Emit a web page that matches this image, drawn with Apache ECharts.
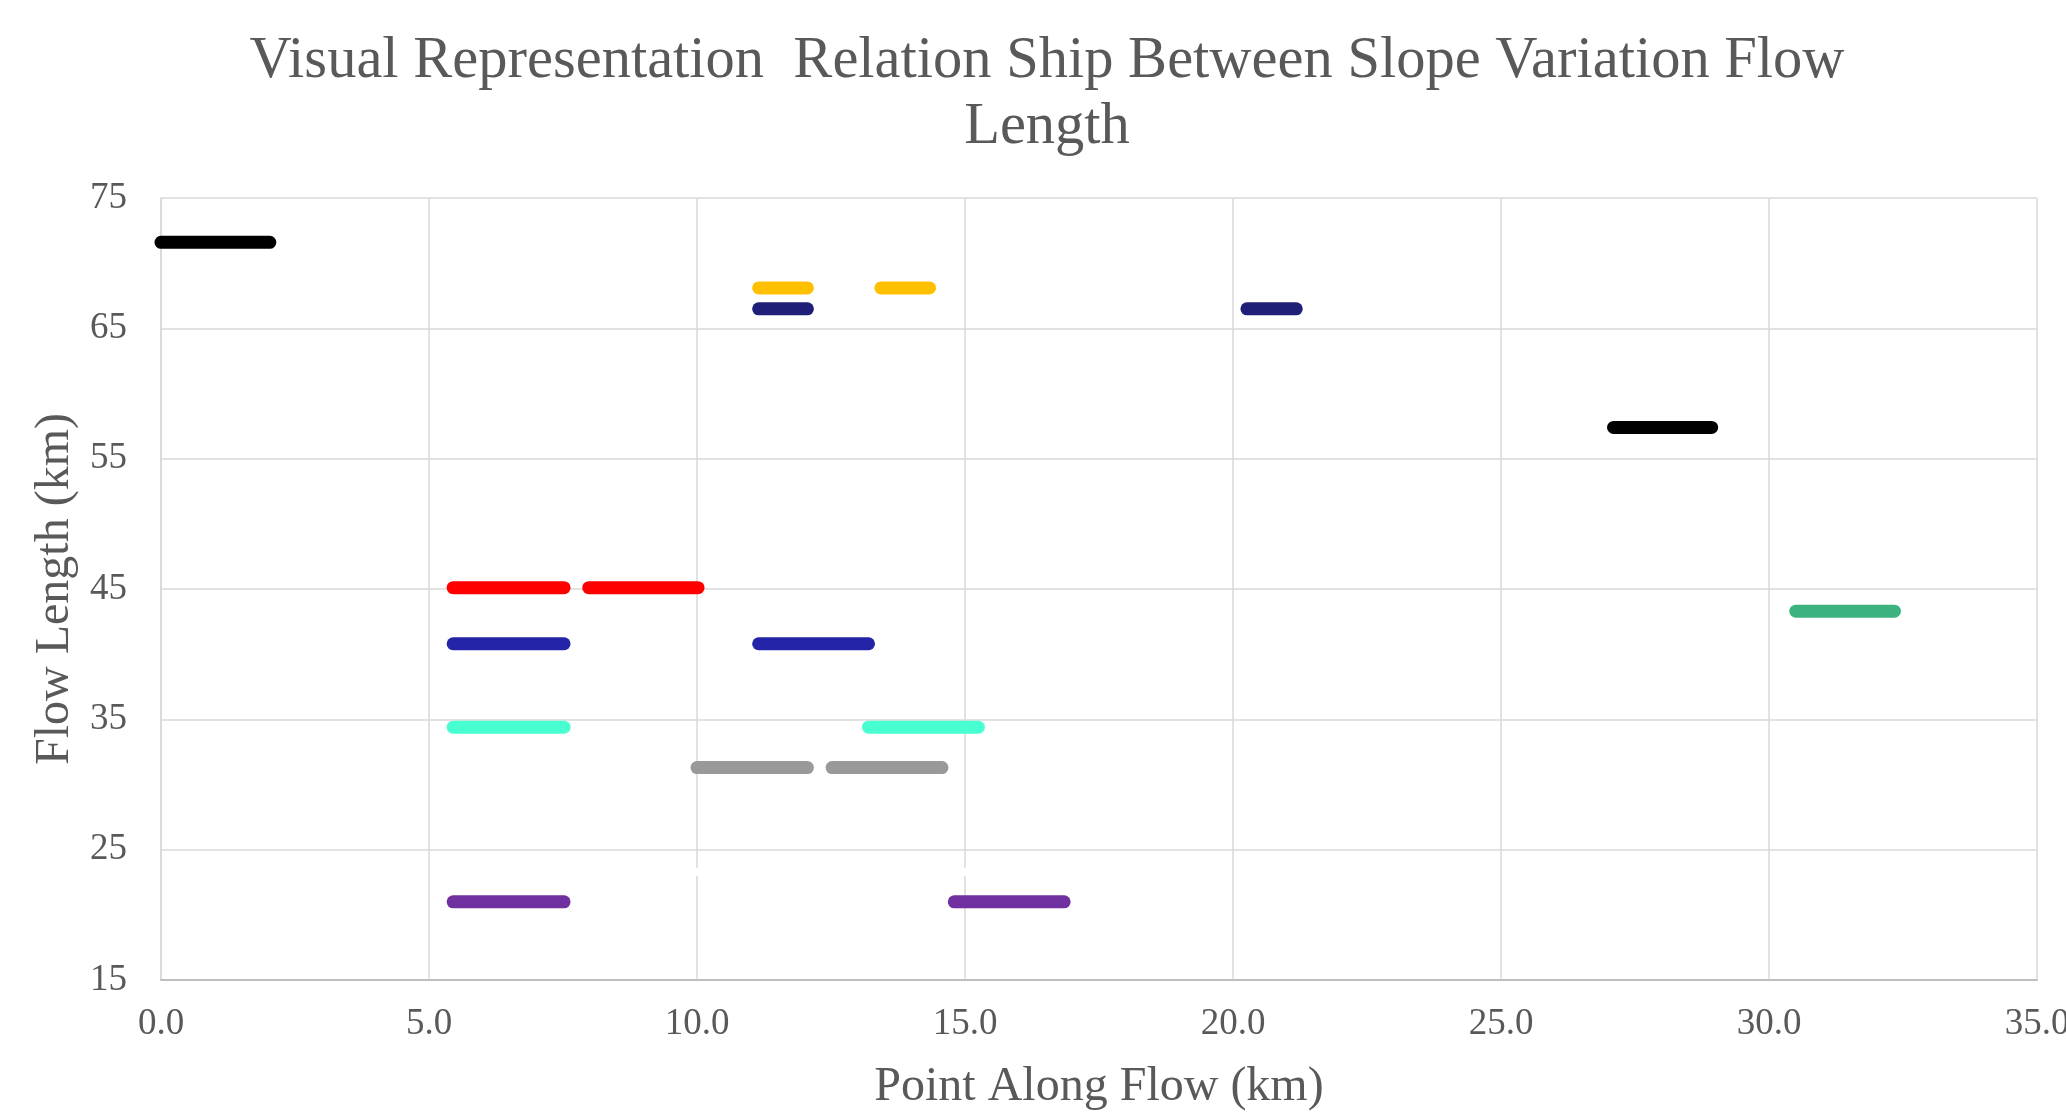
<!DOCTYPE html>
<html>
<head>
<meta charset="utf-8">
<title>Slope Variation vs Flow Length</title>
<script src="https://cdn.jsdelivr.net/npm/echarts@6/dist/echarts.min.js"></script>
<style>
  html, body { margin: 0; padding: 0; background: #ffffff; overflow: hidden; }
  #chart { width: 2066px; height: 1118px; }
</style>
</head>
<body>
<div id="chart"></div>
<script>
// Horizontal slope segments: start point, end point (km along flow) and flow length (km)
const segFrom  = [0.0,  11.15, 13.43, 11.15, 20.26, 27.10, 30.50, 5.45, 7.98, 5.45, 11.15, 5.45, 13.20, 10.00, 12.52, 5.45, 14.80, 9.80];
const segTo    = [2.03, 12.06, 14.34, 12.06, 21.18, 28.93, 32.34, 7.52, 10.02, 7.52, 13.20, 7.52, 15.25, 12.06, 14.57, 7.52, 16.85, 15.20];
const segLevel = [71.6, 68.1,  68.1,  66.5,  66.5,  57.4,  43.3,  45.1, 45.1, 40.8, 40.8,  34.4, 34.4,  31.3,  31.3,  21.0, 21.0,  23.3];
// Which colour group each segment belongs to
const segGroup = [0,    1,     1,     2,     2,     0,     3,     4,    4,    5,    5,     6,    6,     7,     7,     8,    8,     9];

// Axis ticks
const xTicks = [0, 5, 10, 15, 20, 25, 30, 35];
const yTicks = [15, 25, 35, 45, 55, 65, 75];

const titleText = 'Visual Representation  Relation Ship Between Slope Variation Flow\nLength';
const xName = 'Point Along Flow (km)';
const yName = 'Flow Length (km)';

// Styling
const groupColors = ['#000000', '#FFC000', '#1F1F78', '#3CB37F', '#FF0000', '#2424A8', '#48FFD2', '#999999', '#7030A0', '#FFFFFF'];
const groupWidths = [13, 13, 13, 13, 13, 13, 13, 13, 13, 8];
const textColor = '#595959';
const serif = '"Liberation Serif", "Times New Roman", serif';

const series = segFrom.map((x0, i) => ({
  type: 'line',
  symbol: 'none',
  silent: true,
  z: segGroup[i] === 9 ? 1 : 3,
  data: [[x0, segLevel[i]], [segTo[i], segLevel[i]]],
  lineStyle: {
    color: groupColors[segGroup[i]],
    width: groupWidths[segGroup[i]],
    cap: 'round'
  }
}));

const chart = echarts.init(document.getElementById('chart'), null, { renderer: 'canvas' });
chart.setOption({
  backgroundColor: '#ffffff',
  animation: false,
  title: {
    text: titleText,
    left: 1042,
    textAlign: 'center',
    top: 24,
    textStyle: {
      fontFamily: serif,
      fontSize: 58.5,
      fontWeight: 'normal',
      color: textColor,
      lineHeight: 66
    }
  },
  grid: { left: 161, right: 29, top: 198, bottom: 138, containLabel: false, outerBoundsMode: 'none' },
  xAxis: {
    type: 'value',
    min: xTicks[0],
    max: xTicks[xTicks.length - 1],
    interval: xTicks[1] - xTicks[0],
    name: xName,
    nameLocation: 'middle',
    nameGap: 83,
    nameTextStyle: { fontFamily: serif, fontSize: 48, color: textColor },
    axisLine: { show: true, lineStyle: { color: '#BFBFBF', width: 2 } },
    axisTick: { show: false },
    axisLabel: {
      fontFamily: serif, fontSize: 37, color: textColor, margin: 26,
      formatter: v => v.toFixed(1)
    },
    splitLine: { show: true, lineStyle: { color: '#D9D9D9', width: 1.5 } }
  },
  yAxis: {
    type: 'value',
    min: yTicks[0],
    max: yTicks[yTicks.length - 1],
    interval: yTicks[1] - yTicks[0],
    name: yName,
    nameLocation: 'middle',
    nameGap: 82,
    nameRotate: 90,
    nameTextStyle: { fontFamily: serif, fontSize: 48, color: textColor },
    axisLine: { show: true, lineStyle: { color: '#D9D9D9', width: 1.5 } },
    axisTick: { show: false },
    axisLabel: { fontFamily: serif, fontSize: 37, color: textColor, margin: 34 },
    splitLine: { show: true, lineStyle: { color: '#D9D9D9', width: 1.5 } }
  },
  series: series
});
</script>
</body>
</html>
